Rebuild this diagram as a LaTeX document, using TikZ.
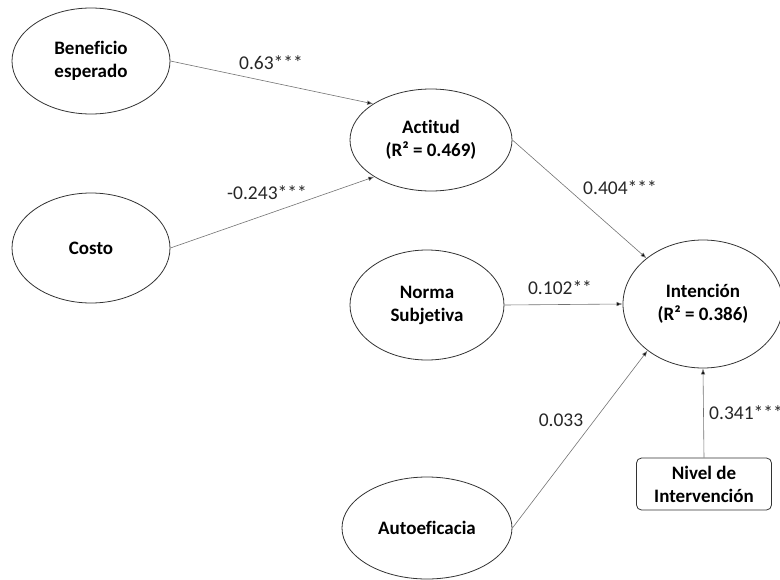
\documentclass[tikz,border=0pt]{standalone}
\usepackage{fontspec}
\setmainfont{Carlito}[Ligatures={NoCommon}]
\usetikzlibrary{shapes.geometric,arrows.meta}
\begin{document}
\begin{tikzpicture}[x=1pt,y=-1pt,
  latent/.style={ellipse,draw=black!80,line width=0.8pt,inner sep=0pt,align=center,font=\fontsize{19}{23}\selectfont\bfseries},
  obs/.style={rectangle,rounded corners=5pt,draw=black!80,line width=0.8pt,inner sep=0pt,align=center,font=\fontsize{19}{23}\selectfont\bfseries},
  path/.style={draw=black!55,line width=0.6pt,-{Latex[length=6pt,width=4.5pt,fill=black]}},
  coef/.style={font=\fontsize{19.5}{22}\selectfont,text=black!85,inner sep=0pt}]
\useasboundingbox (0,0) rectangle (780,579);
\node[latent,minimum width=158pt,minimum height=106pt] (ben) at (91,61) {Beneficio\\esperado};
\node[latent,minimum width=158pt,minimum height=110pt] (cos) at (91,248) {Costo};
\node[latent,minimum width=162pt,minimum height=102pt] (act) at (431,140) {Actitud\\(R² = 0.469)};
\node[latent,minimum width=154pt,minimum height=110pt] (nor) at (427,305) {Norma\\Subjetiva};
\node[latent,minimum width=170pt,minimum height=102pt] (aut) at (427,528) {Autoeficacia};
\node[latent,minimum width=160pt,minimum height=128pt] (int) at (703,304) {Intención\\(R² = 0.386)};
\node[obs,minimum width=135pt,minimum height=52pt] (niv) at (704,484) {Nivel de\\Intervención};
\draw[path] (ben.east) -- (act.148);
\draw[path] (cos.east) -- (act.213);
\draw[path] (act.east) -- (int.141);
\draw[path] (nor.east) -- (int.west);
\draw[path] (aut.east) -- (int.220);
\draw[path] (niv.north) -- (int.south);
\node[coef] (c1) at (271,63) {0.63***};
\node[coef] (c2) at (267,193) {-0.243***};
\node[coef] (c3) at (620,188) {0.404***};
\node[coef] (c4) at (560,288) {0.102**};
\node[coef] (c5) at (561,420) {0.033};
\node[coef,anchor=west] (c6) at (709,413) {0.341***};
\end{tikzpicture}
\end{document}
